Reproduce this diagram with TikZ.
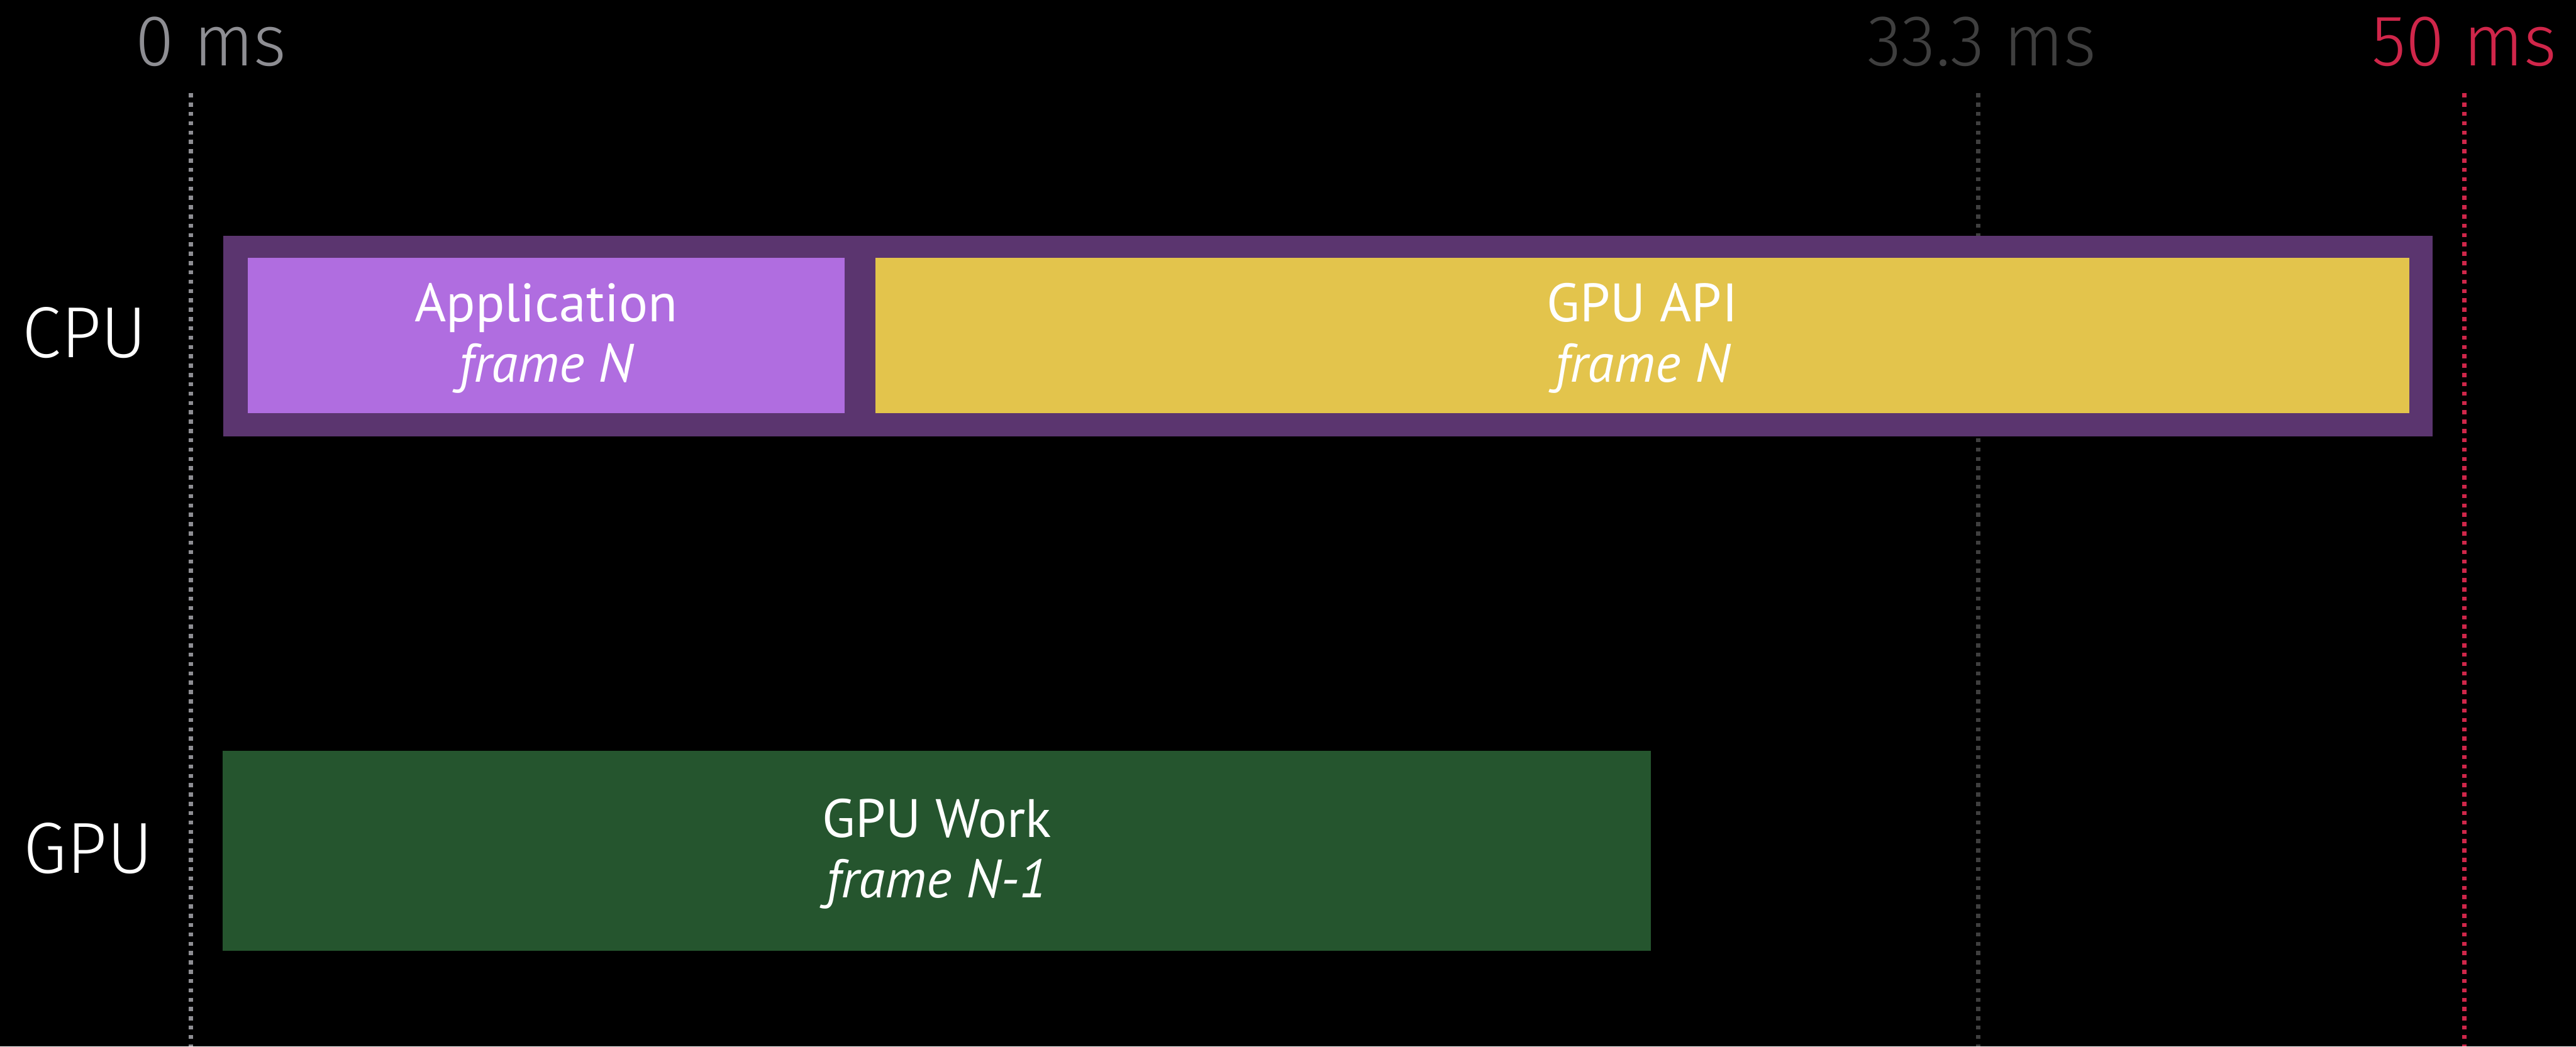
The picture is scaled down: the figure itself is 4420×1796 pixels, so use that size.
\documentclass[tikz,border=0pt]{standalone}
\usepackage{fontspec}
\setmainfont{PT Sans}
\newfontfamily\thinfont{Fira Sans Light}[FakeStretch=0.97]
\usetikzlibrary{fit}

\definecolor{zerogray}{HTML}{8E8E93}
\definecolor{framegray}{HTML}{3F3F3F}
\definecolor{limitred}{HTML}{D0264A}
\definecolor{cpuframe}{HTML}{5B356F}
\definecolor{appfill}{HTML}{B06DE0}
\definecolor{apifill}{HTML}{E3C44C}
\definecolor{gpufill}{HTML}{25552E}

\tikzset{
  tick/.style={line width=1.9pt, dash pattern=on 1.75pt off 2.25pt},
  ticklabel/.style={font=\thinfont\fontsize{31}{36}\selectfont, anchor=base, inner sep=0pt},
  rowlabel/.style={font=\thinfont\fontsize{31}{36}\selectfont, anchor=base west, inner sep=0pt, text=white},
  bar/.style={inner sep=0pt, outer sep=0pt, draw=none},
  titleline/.style={anchor=base, inner sep=0pt, text=white,
    font=\fontsize{23.2}{26}\selectfont, yshift=5.9pt},
  frameline/.style={anchor=base, inner sep=0pt, text=white,
    font=\fontsize{23.2}{26}\selectfont\itshape, yshift=-20.1pt},
}

\begin{document}
\begin{tikzpicture}[x=0.25pt, y=-0.25pt]
  % page background
  \fill[black] (0,0) rectangle (4420,1796);
  \useasboundingbox (0,0) rectangle (4420,1796);

  % time markers
  \coordinate (t0top) at (327,160);    \coordinate (t0bot) at (327,1796);
  \coordinate (t33top) at (3394,160);  \coordinate (t33bot) at (3394,1796);
  \coordinate (t50top) at (4228,160);  \coordinate (t50bot) at (4228,1796);
  \draw[tick, zerogray]  (t0top) -- (t0bot);
  \draw[tick, framegray] (t33top) -- (t33bot);
  \draw[tick, limitred]  (t50top) -- (t50bot);

  \node[ticklabel, text=zerogray]  (l0)  at (362,113)  {0 ms};
  \node[ticklabel, text=framegray] (l33) at (3401,113) {33.3 ms};
  \node[ticklabel, text=limitred]  (l50) at (4228,113) {50 ms};

  % row labels
  \node[rowlabel] (cpu) at (38,613)  {CPU};
  \node[rowlabel] (gpu) at (40,1498) {GPU};

  % CPU row
  \node[bar, fill=cpuframe, fit={(383,405) (4174,749)}] (cpuframe) {};
  \node[bar, fill=appfill, fit={(425,442) (1449,709)}] (app) {};
  \node[bar, fill=apifill, fit={(1502,442) (4134,709)}] (api) {};
  \node[titleline] (appT) at (app.center) {Application};
  \node[frameline] (appF) at (app.center) {frame N};
  \node[titleline] (apiT) at (api.center) {GPU API};
  \node[frameline] (apiF) at (api.center) {frame N};

  % GPU row
  \node[bar, fill=gpufill, fit={(382,1288) (2833,1632)}] (work) {};
  \node[titleline] (workT) at (work.center) {GPU Work};
  \node[frameline] (workF) at (work.center) {frame N-1};
\end{tikzpicture}
\end{document}
